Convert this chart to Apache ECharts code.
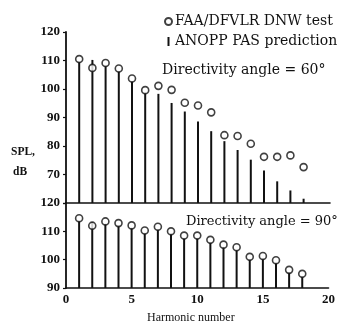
<!DOCTYPE html>
<html>
<head>
<meta charset="utf-8">
<script src="https://cdn.jsdelivr.net/npm/echarts@6/dist/echarts.min.js"></script>
<style>
html,body{margin:0;padding:0;background:#fff;}
#chart{width:338px;height:336px;}
</style>
</head>
<body>
<div id="chart"></div>
<script>
const harmonics = [1,2,3,4,5,6,7,8,9,10,11,12,13,14,15,16,17,18];
const test60 = [110.5,107.4,109.1,107.2,103.7,99.6,101.1,99.7,95.2,94.2,91.8,83.8,83.5,80.8,76.2,76.2,76.7,72.6];
const pred60 = [109.6,110.2,108.2,106.2,102.8,98.6,98.3,95.1,92.1,88.6,85.2,81.7,78.6,75.2,71.4,67.6,64.4,61.5];
const test90 = [114.6,112.0,113.5,112.9,112.1,110.3,111.6,110.0,108.5,108.5,107.0,105.3,104.4,101.0,101.3,99.8,96.4,95.0];
const pred90 = [113.8,113.3,112.7,112.1,111.3,109.5,110.8,109.2,107.7,107.7,106.2,104.5,103.6,100.2,100.5,99.0,95.6,94.2];
const xTicks = [0,5,10,15,20];
const yTicksTop = [70,80,90,100,110,120];
const yTicksBottom = [90,100,110,120];

const SERIF = '"Liberation Serif","DejaVu Serif",serif';
const WIDE = '"DejaVu Serif","Liberation Serif",serif';
const INK = '#111';
const testName = 'FAA/DFVLR DNW test';
const predName = 'ANOPP PAS prediction';

const pairs = (ys) => harmonics.map((h, i) => [h, ys[i]]);

const chart = echarts.init(document.getElementById('chart'), null, {renderer: 'canvas'});

const yLabel = (ticks) => ({
  show: true, color: INK, fontFamily: SERIF, fontSize: 13, fontWeight: 'bold', margin: 6,
  formatter: (v) => ticks.includes(v) ? String(v) : ''
});

chart.setOption({
  animation: false,
  backgroundColor: '#fff',
  grid: [
    {left: 66, right: 8, top: 32, height: 171},
    {left: 66, right: 8, top: 203, height: 85}
  ],
  xAxis: [
    {gridIndex: 0, type: 'value', min: 0, max: 20, interval: 5,
     axisLine: {show: true, onZero: false, lineStyle: {color: INK, width: 1.6}},
     axisTick: {show: false}, axisLabel: {show: false}, splitLine: {show: false}},
    {gridIndex: 1, type: 'value', min: 0, max: 20, interval: 5,
     axisLine: {show: true, onZero: false, lineStyle: {color: INK, width: 1.6}},
     axisTick: {show: false},
     axisLabel: {show: true, color: INK, fontFamily: SERIF, fontSize: 13, fontWeight: 'bold', margin: 5,
       formatter: (v) => xTicks.includes(v) ? String(v) : ''},
     splitLine: {show: false}}
  ],
  yAxis: [
    {gridIndex: 0, type: 'value', min: 60, max: 120, interval: 10,
     axisLine: {show: true, onZero: false, lineStyle: {color: INK, width: 1.8}},
     axisTick: {show: true, inside: false, length: 3, lineStyle: {color: INK, width: 1.2}},
     axisLabel: yLabel(yTicksTop), splitLine: {show: false}},
    {gridIndex: 1, type: 'value', min: 90, max: 120, interval: 10,
     axisLine: {show: true, onZero: false, lineStyle: {color: INK, width: 1.8}},
     axisTick: {show: true, inside: false, length: 3, lineStyle: {color: INK, width: 1.2}},
     axisLabel: yLabel(yTicksBottom), splitLine: {show: false}}
  ],
  legend: {
    orient: 'vertical', left: 159, top: 8, itemGap: 3, itemWidth: 7, itemHeight: 9,
    selectedMode: false,
    textStyle: {color: INK, fontFamily: WIDE, fontSize: 14, lineHeight: 17, padding: [0, 0, 0, -2]},
    data: [
      {name: testName, icon: 'emptyCircle', itemStyle: {color: INK, borderColor: INK, borderWidth: 1.3}},
      {name: predName, icon: 'path://M0,0L0,0M7,9L7,9M2.5,0L4.5,0L4.5,9L2.5,9Z', itemStyle: {color: INK, borderWidth: 0}}
    ]
  },
  graphic: [
    {type: 'text', left: 11, top: 146, style: {text: 'SPL,', fill: INK, font: 'bold 11.5px ' + SERIF}},
    {type: 'text', left: 13, top: 166, style: {text: 'dB', fill: INK, font: 'bold 11.5px ' + SERIF}},
    {type: 'text', left: 162, top: 63, style: {text: 'Directivity angle = 60°', fill: INK, font: '14px ' + WIDE}},
    {type: 'text', left: 186, top: 215, style: {text: 'Directivity angle = 90°', fill: INK, font: '13px ' + WIDE}},
    {type: 'text', left: 147, top: 312, style: {text: 'Harmonic number', fill: INK, font: '12px ' + SERIF}}
  ],
  series: [
    {name: predName, type: 'bar', xAxisIndex: 0, yAxisIndex: 0, data: pairs(pred60),
     barWidth: 2, clip: true, itemStyle: {color: INK}, z: 2},
    {name: testName, type: 'scatter', xAxisIndex: 0, yAxisIndex: 0, data: pairs(test60),
     symbol: 'circle', symbolSize: 7, itemStyle: {color: '#fff', borderColor: INK, borderWidth: 1.6}, z: 3},
    {name: predName, type: 'bar', xAxisIndex: 1, yAxisIndex: 1, data: pairs(pred90),
     barWidth: 2, clip: true, itemStyle: {color: INK}, z: 2},
    {name: testName, type: 'scatter', xAxisIndex: 1, yAxisIndex: 1, data: pairs(test90),
     symbol: 'circle', symbolSize: 7, itemStyle: {color: '#fff', borderColor: INK, borderWidth: 1.6}, z: 3}
  ]
});
</script>
</body>
</html>
